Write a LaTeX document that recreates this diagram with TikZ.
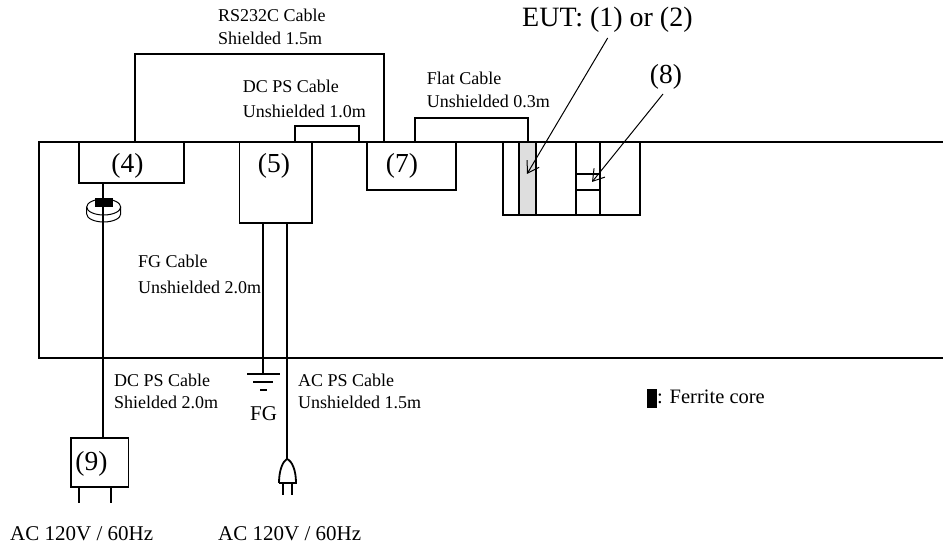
\documentclass[tikz,border=0pt]{standalone}
\usepackage{fontspec}
\setmainfont{Liberation Serif}
\usetikzlibrary{arrows.meta,shapes.geometric}
\tikzset{
  wire/.style={line width=1.8pt,black},
  thin wire/.style={line width=1.2pt,black},
  boxn/.style={draw,line width=1.8pt,inner sep=0pt,outer sep=0pt,anchor=north west},
  small/.style={font=\fontsize{18}{20}\selectfont,anchor=base west,inner sep=0pt},
  big/.style={font=\fontsize{27.5}{30}\selectfont,anchor=base,inner sep=0pt},
  mid/.style={font=\fontsize{21}{24}\selectfont,anchor=base west,inner sep=0pt},
  ptr/.style={line width=1pt,-{Straight Barb[length=11pt,width=14pt,line width=1pt]}},
}
\begin{document}
\begin{tikzpicture}[x=1pt,y=-1pt]
\useasboundingbox (0,0) rectangle (943,548);
% table
\coordinate (tl) at (39,142); \coordinate (tr) at (943,142);
\coordinate (bl) at (39,358); \coordinate (br) at (943,358);
\draw[wire] (tr) -- (tl) -- (bl) -- (br);
% boxes
\node[boxn,minimum width=105pt,minimum height=41pt] (n4) at (79,142) {};
\node[boxn,minimum width=72.5pt,minimum height=81pt] (n5) at (239.5,142) {};
\node[boxn,minimum width=89pt,minimum height=48pt] (n7) at (367,142) {};
\node[boxn,minimum width=57.5pt,minimum height=49pt] (n9) at (71,438) {};
% labels in boxes
\node[big] (l4) at (127.5,173) {(4)};
\node[big] (l5) at (274,173) {(5)};
\node[big] (l7) at (402,173) {(7)};
\node[big] (l9) at (91.5,470) {(9)};
% EUT
\node[boxn,minimum width=137pt,minimum height=73pt] (eut) at (503,142) {};
\node[boxn,fill=black!13,minimum width=17pt,minimum height=73pt] (grey) at (519,142) {};
\node[boxn,minimum width=24pt,minimum height=73pt] (slot) at (576,142) {};
\node[boxn,minimum width=24pt,minimum height=16pt] (n8) at (576,174) {};
% cables on top
\coordinate (rs) at (135,54); \coordinate (rs2) at (384,54);
\draw[wire] (n4.north -| rs) -- (rs) -- (rs2) -- (n7.north -| rs2);
\coordinate (dc) at (295,126); \coordinate (dc2) at (359,126);
\draw[wire] (n5.north -| dc) -- (dc) -- (dc2) -- (tl -| dc2);
\coordinate (fl) at (415,118); \coordinate (fl2) at (528,118);
\draw[wire] (n7.north -| fl) -- (fl) -- (fl2) -- (grey.north -| fl2);
% ferrite clamp
\coordinate (cab) at (103,300);
\node[draw,line width=1pt,ellipse,minimum width=34pt,minimum height=16pt,inner sep=0pt,outer sep=0pt] (clamp) at (103.7,207) {};
\draw[thin wire,line width=1pt] (clamp.west) -- ++(0,7) arc[start angle=180,end angle=360,x radius=17pt,y radius=8pt] -- (clamp.east);
\draw[wire] (n4.south -| cab) -- (n9.north -| cab);
\node[fill=black,minimum width=18pt,minimum height=9pt,inner sep=0pt] (core) at (104,202.5) {};
% plug 9 prongs
\coordinate (p1) at (79,503); \coordinate (p2) at (111,503);
\draw[wire] (n9.south -| p1) -- (p1);
\draw[wire] (n9.south -| p2) -- (p2);
% FG
\coordinate (gnd) at (263,374);
\draw[wire] (n5.south -| gnd) -- (gnd);
\coordinate (g1) at (247,374); \coordinate (g2) at (280,374);
\coordinate (g3) at (253,382); \coordinate (g4) at (273,382);
\coordinate (g5) at (260,390); \coordinate (g6) at (267,390);
\draw[wire] (g1) -- (g2); \draw[wire] (g3) -- (g4); \draw[wire] (g5) -- (g6);
% AC
\coordinate (ac) at (287,459);
\draw[wire] (n5.south -| ac) -- (ac);
\coordinate (pl) at (279,483); \coordinate (pr) at (296,483);
\draw[wire] (pl) .. controls (279,470) and (283,461) .. (ac) .. controls (292,461) and (296,470) .. (pr) -- (pl);
\coordinate (q1) at (283,494.5); \coordinate (q2) at (292,494.5);
\draw[wire] (pl -| q1) -- (q1);
\draw[wire] (pl -| q2) -- (q2);
% texts
\node[small] (t1) at (218,21.5) {RS232C Cable};
\node[small] (t2) at (218,45) {Shielded 1.5m};
\node[small] (t3) at (242.7,93) {DC PS Cable};
\node[small] (t4) at (242.7,118) {Unshielded 1.0m};
\node[small] (t5) at (426.7,85) {Flat Cable};
\node[small] (t6) at (426.7,108) {Unshielded 0.3m};
\node[small] (t7) at (138,268) {FG Cable};
\node[small] (t8) at (138,294) {Unshielded 2.0m};
\node[small] (t9) at (114,386.5) {DC PS Cable};
\node[small] (t10) at (114,408) {Shielded 2.0m};
\node[small] (t11) at (298,386.5) {AC PS Cable};
\node[small] (t12) at (298,408) {Unshielded 1.5m};
\node[mid] (t13) at (10,540) {AC 120V / 60Hz};
\node[mid] (t14) at (218,540) {AC 120V / 60Hz};
\node[mid] (fg) at (250,420) {FG};
\node[fill=black,minimum width=10pt,minimum height=18.5pt,inner sep=0pt] (leg) at (651.7,398.7) {};
\node[mid,font=\fontsize{20.5}{24}\selectfont] (t15) at (657,403) {: Ferrite core};
\node[big,anchor=base west,font=\fontsize{28}{30}\selectfont] (eutl) at (522,27) {EUT: (1) or (2)};
\node[big] (l8) at (666,83.3) {(8)};
% pointers
\coordinate (a1) at (607.7,38); \coordinate (a1t) at (527,174);
\coordinate (a2) at (663,94); \coordinate (a2t) at (592,182);
\draw[ptr] (a1) -- (a1t);
\draw[ptr] (a2) -- (a2t);
\end{tikzpicture}
\end{document}
